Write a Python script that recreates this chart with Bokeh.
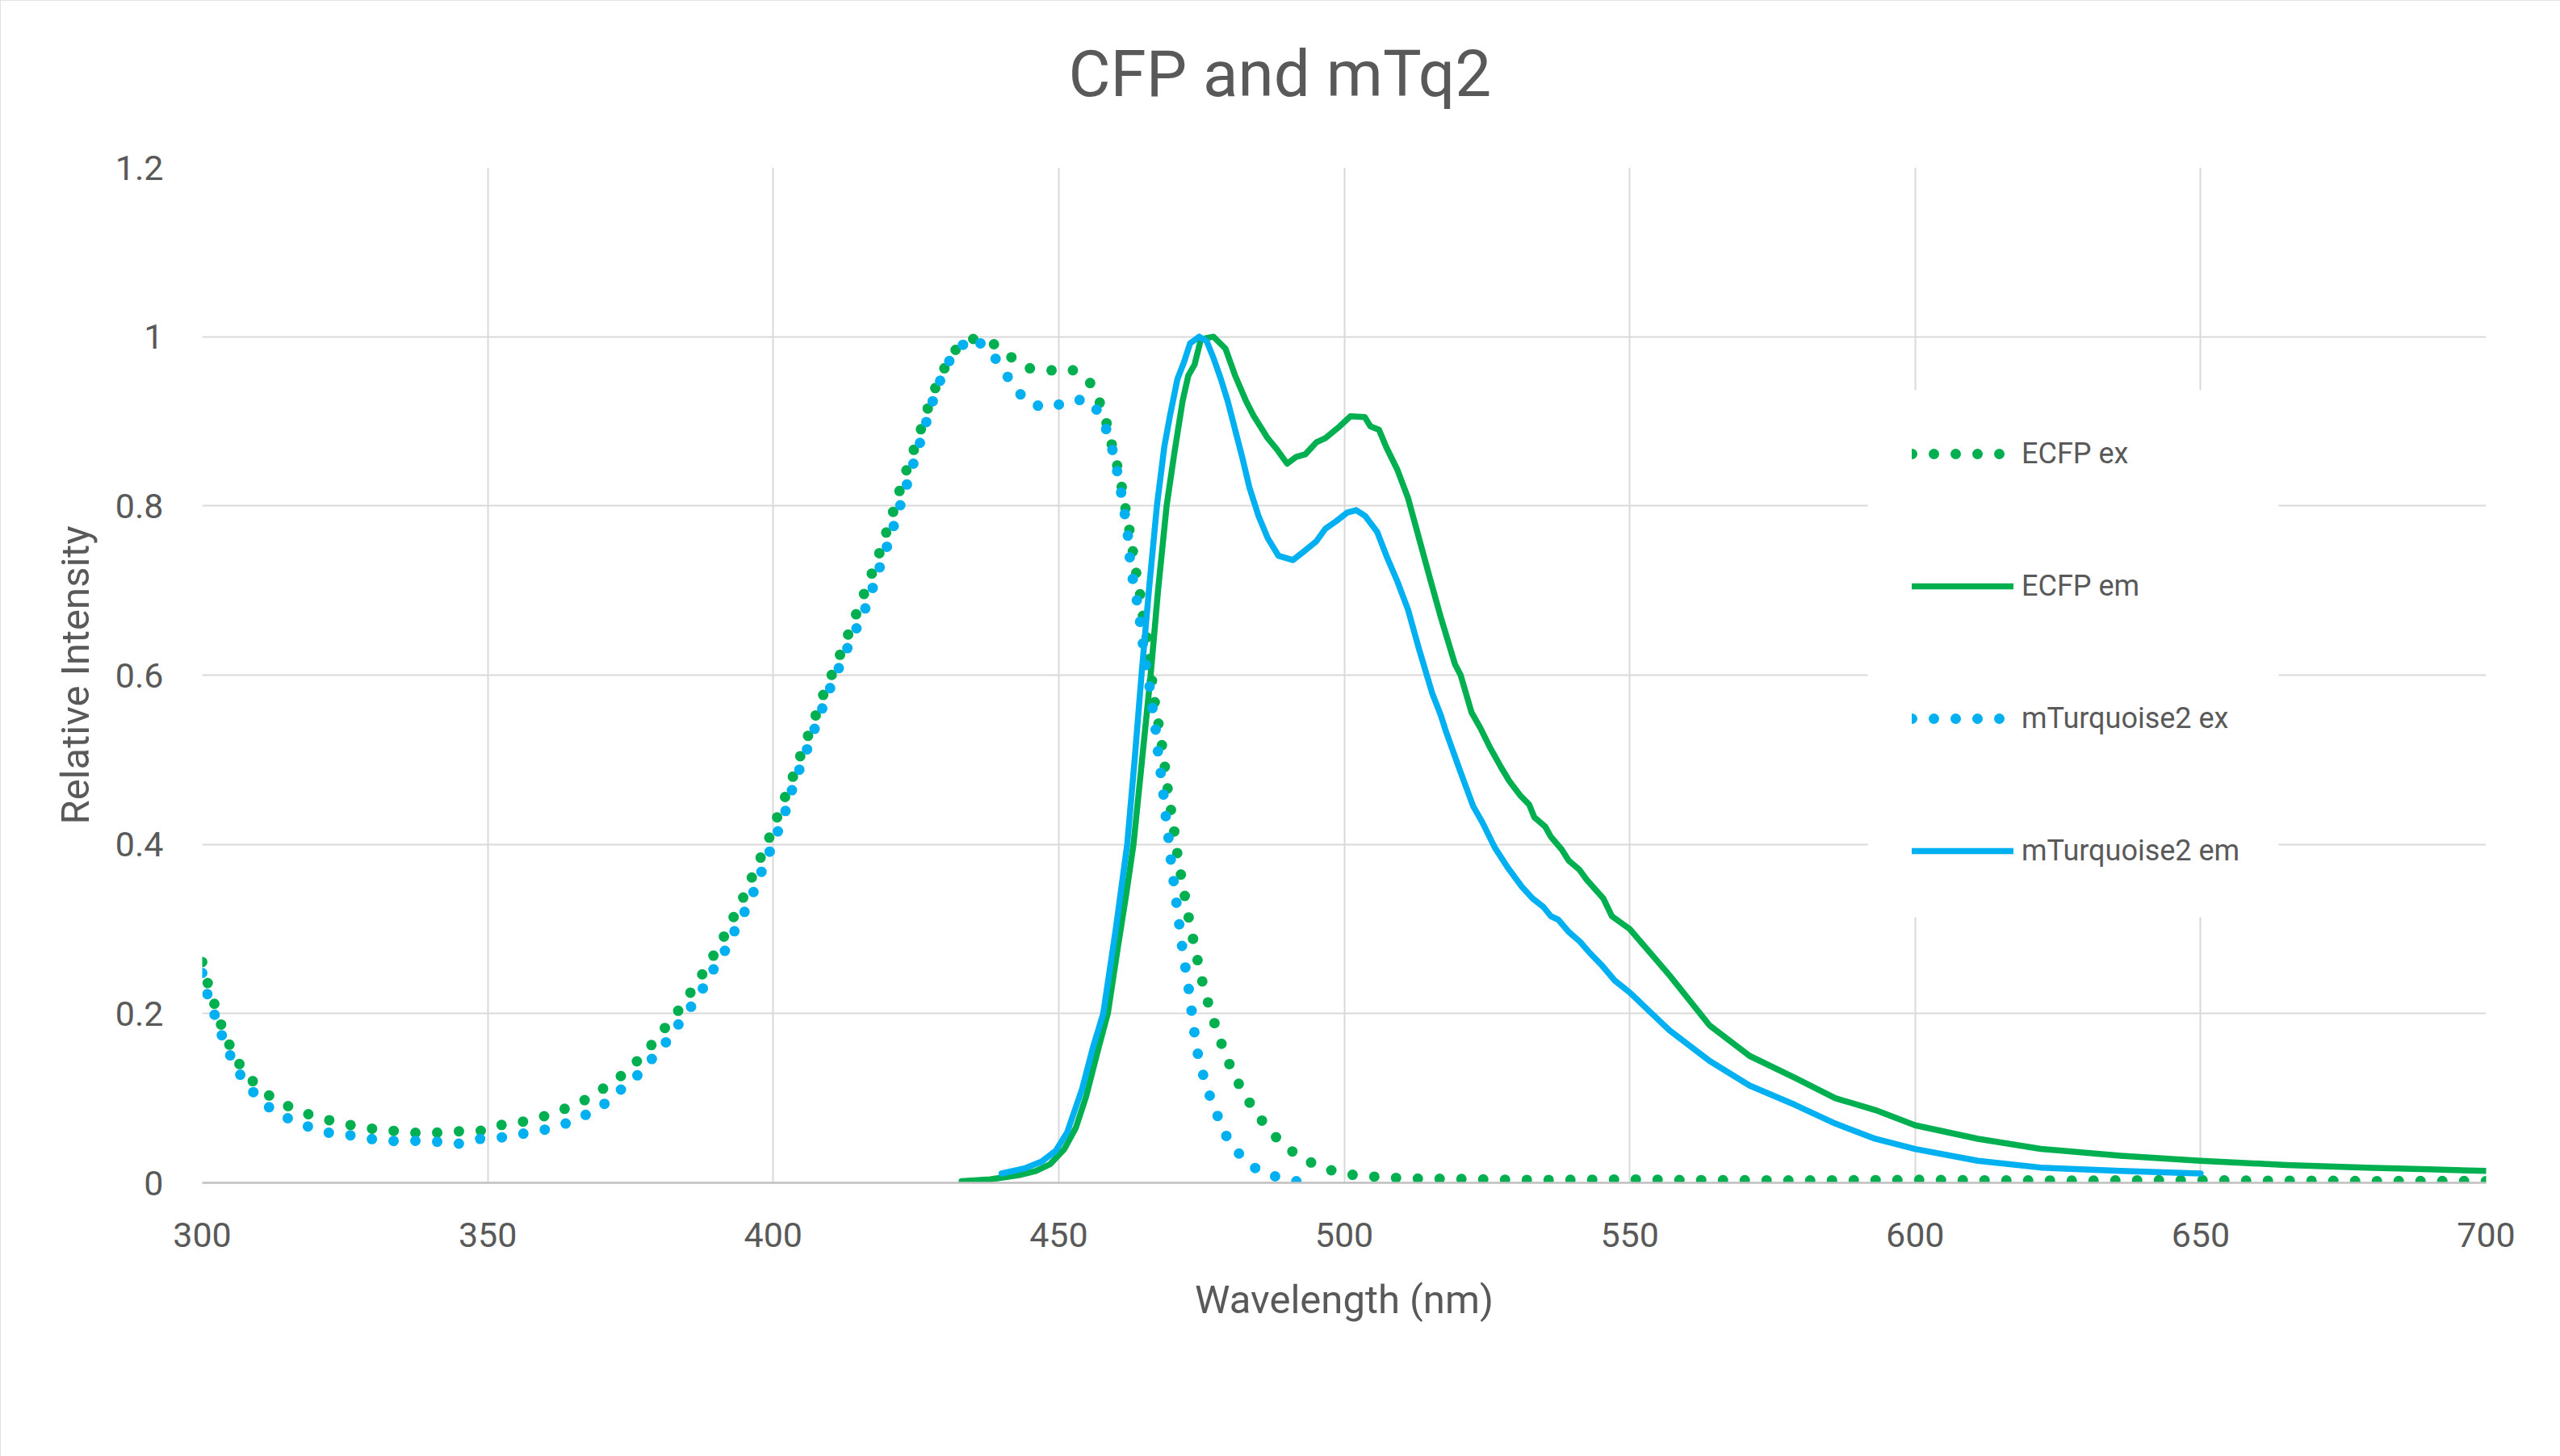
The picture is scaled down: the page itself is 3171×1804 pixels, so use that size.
from bokeh.plotting import figure
from bokeh.models import Range1d, Legend, LegendItem, FixedTicker, BoxAnnotation, Title
from bokeh.embed import file_html
from bokeh.resources import INLINE

# ---------------- data ----------------
ecfp_ex_wl = [300, 301, 302.2, 303.4, 304.9, 306.7, 309.1, 312.1, 315.5, 319.2, 322.9, 326.6, 330.4, 334.2,
              338, 341.8, 345.7, 349.6, 353, 356.7, 360.4, 364.1, 367.5, 370.8, 373.9, 376.8, 379.2, 381.6,
              384, 386.1, 388.2, 390.1, 392, 393.7, 395.4, 396.9, 398.5, 399.9, 401.3, 402.8, 404.1, 405.4,
              406.9, 408.1, 409.6, 411.1, 412.6, 414, 415.4, 416.8, 418.2, 419.4, 420.7, 421.8, 423, 424.3,
              425.6, 426.8, 428.1, 429.7, 431.5, 434.4, 438.1, 441.2, 444.5, 448.2, 452.1, 455.3, 457.1,
              458.3, 459.2, 460.2, 461, 461.7, 462.4, 463, 463.6, 464.3, 464.8, 465.5, 466, 466.4, 466.9,
              467.6, 468.2, 468.7, 469.2, 469.8, 470.4, 470.9, 471.6, 472.3, 473, 473.8, 474.6, 475.5,
              476.6, 477.8, 479.1, 480.6, 482.4, 484.5, 486.8, 489.5, 492.7, 496.2, 500, 503.8, 507.7,
              511.6, 520, 531, 540, 550, 560, 570, 580, 590, 600, 610, 620, 630, 640, 650, 660, 670, 680,
              690, 700]
ecfp_ex_val = [0.261, 0.235, 0.210, 0.185, 0.161, 0.138, 0.118, 0.101, 0.089, 0.0795, 0.0728, 0.0674, 0.0633,
               0.061, 0.0587, 0.0594, 0.0612, 0.0616, 0.0697, 0.0728, 0.0797, 0.089, 0.0993, 0.114, 0.129,
               0.148, 0.167, 0.188, 0.209, 0.231, 0.253, 0.275, 0.299, 0.323, 0.346, 0.372, 0.394, 0.418,
               0.443, 0.468, 0.492, 0.517, 0.541, 0.566, 0.590, 0.614, 0.639, 0.663, 0.687, 0.712, 0.736,
               0.761, 0.786, 0.811, 0.836, 0.860, 0.885, 0.910, 0.935, 0.959, 0.982, 0.998, 0.994, 0.978,
               0.963, 0.960, 0.962, 0.948, 0.924, 0.900, 0.875, 0.849, 0.824, 0.797, 0.771, 0.746, 0.720,
               0.694, 0.668, 0.642, 0.615, 0.590, 0.564, 0.538, 0.512, 0.486, 0.460, 0.435, 0.408, 0.383,
               0.357, 0.331, 0.305, 0.280, 0.254, 0.228, 0.203, 0.178, 0.153, 0.129, 0.106, 0.0833, 0.0629,
               0.0437, 0.0288, 0.0177, 0.0105, 0.0079, 0.0062, 0.005, 0.0045, 0.0034, 0.0035, 0.004, 0.0032,
               0.003, 0.0028, 0.003, 0.0035, 0.003, 0.0028, 0.0025, 0.003, 0.003, 0.0025, 0.0025, 0.002,
               0.0022, 0.002]

ecfp_em_wl = [433, 438, 443, 446, 448.5, 451, 453, 454.8, 457, 458.6, 460.4, 461.8, 463.1, 464.6, 466.1, 467.4,
              468.9, 470.2, 471.7, 472.7, 473.8, 474.9, 477.1, 479.2, 480.9, 482.8, 484.1, 485.3, 486.6, 488.2,
              490, 491.6, 493.2, 495.1, 496.7, 499.2, 501.1, 503.6, 504.6, 506.1, 507.4, 509.3, 511.2,
              513.1, 515, 516.9, 519.4, 520.4, 522.3, 523.9, 525.5, 527.4, 528.9, 530.8, 532.4, 533.3,
              535.2, 536.2, 538.1, 539.3, 541.2, 542.5, 545.4, 546.9, 550, 557, 564, 571, 579, 586, 593,
              600, 611, 622, 636, 650, 665, 679, 690, 700]
ecfp_em_val = [0.002, 0.004, 0.009, 0.014, 0.022, 0.040, 0.065, 0.102, 0.16, 0.20, 0.28, 0.34, 0.40, 0.50,
               0.60, 0.70, 0.80, 0.86, 0.924, 0.954, 0.967, 0.997, 1.0, 0.986, 0.954, 0.924, 0.907, 0.894,
               0.880, 0.867, 0.850, 0.858, 0.861, 0.875, 0.880, 0.894, 0.906, 0.905, 0.894, 0.890, 0.869,
               0.843, 0.809, 0.762, 0.715, 0.669, 0.613, 0.600, 0.556, 0.537, 0.515, 0.492, 0.475, 0.458,
               0.447, 0.432, 0.421, 0.409, 0.394, 0.381, 0.370, 0.358, 0.336, 0.315, 0.300, 0.245, 0.186,
               0.150, 0.124, 0.100, 0.086, 0.068, 0.052, 0.040, 0.032, 0.026, 0.021, 0.018, 0.016, 0.014]

mtq2_ex_wl = [300, 300.9, 302.2, 303.5, 305, 306.8, 309.2, 312, 315.4, 318.8, 322.4, 326.1, 329.9, 333.8,
              337.6, 341.3, 344.9, 348.5, 352.2, 355.9, 359.6, 363.4, 367, 370.3, 373.3, 376.2, 378.7,
              381.2, 383.5, 385.7, 387.8, 389.7, 391.7, 393.4, 395.2, 396.7, 398.2, 399.6, 401.1, 402.4,
              403.5, 404.9, 406.3, 407.6, 409, 410.4, 412, 413.5, 415.2, 416.7, 417.9, 419.2, 420.5, 421.6,
              422.8, 424, 425.1, 426.3, 427.4, 428.6, 430, 431.9, 435, 438, 440.3, 442.3, 445, 448.7, 452.2,
              455.7, 457.7, 459, 459.9, 460.7, 461.3, 462, 462.3, 462.7, 463.5, 464.1, 464.6, 465.1, 465.8,
              466.3, 466.9, 467.3, 467.8, 468.3, 468.7, 469.2, 469.6, 470.1, 470.6, 471.1, 471.6, 472.2,
              472.8, 473.3, 473.8, 474.4, 475.4, 476.6, 478, 479.6, 482, 484.9, 488.5, 492.2]
mtq2_ex_val = [0.248, 0.223, 0.198, 0.173, 0.149, 0.126, 0.105, 0.0875, 0.0747, 0.0658, 0.0588, 0.056, 0.0515,
               0.0493, 0.0496, 0.0484, 0.0462, 0.0518, 0.0534, 0.0577, 0.062, 0.0693, 0.0797, 0.0925, 0.110,
               0.127, 0.146, 0.166, 0.188, 0.209, 0.231, 0.254, 0.276, 0.300, 0.323, 0.346, 0.372, 0.395,
               0.420, 0.444, 0.469, 0.494, 0.519, 0.543, 0.568, 0.592, 0.616, 0.640, 0.664, 0.688, 0.713,
               0.738, 0.763, 0.787, 0.812, 0.838, 0.862, 0.887, 0.913, 0.937, 0.961, 0.984, 0.999, 0.983,
               0.961, 0.939, 0.920, 0.916, 0.926, 0.924, 0.902, 0.878, 0.852, 0.826, 0.800, 0.775, 0.749,
               0.723, 0.696, 0.671, 0.645, 0.618, 0.593, 0.566, 0.541, 0.514, 0.488, 0.462, 0.436, 0.410,
               0.384, 0.358, 0.332, 0.306, 0.280, 0.254, 0.228, 0.202, 0.176, 0.151, 0.125, 0.100, 0.0761,
               0.0518, 0.0309, 0.0147, 0.0062, 0.0011]

mtq2_em_wl = [440, 444, 447, 449.5, 451.5, 454.1, 456, 457.8, 460, 462, 463.3, 464.5, 465.8, 467.2, 468.5, 469.5,
              470.8, 472, 473, 474.6, 475.9, 477.1, 478.4, 479.6, 480.9, 482.2, 483.4, 485, 486.6, 488.5,
              491, 492.9, 495.1, 496.7, 498.6, 500.5, 502.1, 503.7, 505.8, 507.4, 509.3, 511.2, 513.1,
              515.4, 516.9, 517.9, 520.4, 522.6, 524.2, 526.4, 528.6, 531.1, 533, 534.9, 536.2, 537.5,
              539.4, 541.3, 543.1, 545, 547.4, 550, 557, 564, 571, 579, 586, 593, 600, 611, 622, 636, 650]
mtq2_em_val = [0.011, 0.017, 0.025, 0.038, 0.060, 0.111, 0.16, 0.20, 0.30, 0.40, 0.50, 0.60, 0.70, 0.80, 0.87,
               0.907, 0.950, 0.971, 0.992, 1.0, 0.995, 0.975, 0.950, 0.924, 0.890, 0.856, 0.822, 0.788, 0.762,
               0.741, 0.736, 0.746, 0.758, 0.773, 0.782, 0.792, 0.795, 0.788, 0.769, 0.741, 0.711, 0.677,
               0.631, 0.579, 0.553, 0.532, 0.485, 0.445, 0.426, 0.396, 0.373, 0.350, 0.336, 0.326, 0.315,
               0.311, 0.296, 0.285, 0.271, 0.258, 0.239, 0.225, 0.180, 0.144, 0.115, 0.092, 0.070, 0.052,
               0.040, 0.026, 0.018, 0.014, 0.011]

series_names = ["ECFP ex", "ECFP em", "mTurquoise2 ex", "mTurquoise2 em"]
x_ticks = [300, 350, 400, 450, 500, 550, 600, 650, 700]
y_ticks = [0, 0.2, 0.4, 0.6, 0.8, 1.0, 1.2]
y_tick_labels = ["0", "0.2", "0.4", "0.6", "0.8", "1", "1.2"]
title_text = "CFP and mTq2"
x_title = "Wavelength (nm)"
y_title = "Relative Intensity"

# ---------------- styling ----------------
GREEN = "#00B050"
BLUE = "#00B0F0"
TXT = "#595959"
GRID = "#D9D9D9"
FONT = "Roboto"

W, H = 3171, 1804
p = figure(width=W, height=H, output_backend="svg", toolbar_location=None,
           x_range=Range1d(300, 700), y_range=Range1d(0, 1.2),
           min_border_left=250, min_border_right=92, min_border_top=207, min_border_bottom=339)
p.styles = {"outline": "3px solid #D9D9D9", "outline-offset": "-3px"}
p.outline_line_color = None
p.background_fill_color = "white"
p.border_fill_color = "white"

# spacer between the plot area and the title (keeps the title high, like the reference)
p.add_layout(Title(text=" ", text_font_size="10px", standoff=56), "above")

p.title.text = title_text
p.title.text_font = FONT
p.title.text_font_size = "80px"
p.title.text_font_style = "normal"
p.title.text_color = TXT
p.title.align = "left"
p.title.offset = 1073
p.title.standoff = 0

p.xaxis.ticker = FixedTicker(ticks=x_ticks)
p.yaxis.ticker = FixedTicker(ticks=y_ticks)
p.yaxis.major_label_overrides = dict(zip(y_ticks, y_tick_labels))
for ax in (p.xaxis, p.yaxis):
    ax.major_tick_line_color = None
    ax.minor_tick_line_color = None
    ax.major_tick_in = 0
    ax.major_tick_out = 0
    ax.minor_tick_out = 0
    ax.major_label_text_font = FONT
    ax.major_label_text_font_size = "43px"
    ax.major_label_text_color = TXT
    ax.axis_label_text_font = FONT
    ax.axis_label_text_font_size = "49px"
    ax.axis_label_text_font_style = "normal"
    ax.axis_label_text_color = TXT
p.xaxis.axis_label = x_title
p.yaxis.axis_label = y_title
p.xaxis.axis_line_color = "#BFBFBF"
p.xaxis.axis_line_width = 2.5
p.yaxis.axis_line_color = None
p.xaxis.major_label_standoff = 49
p.xaxis.axis_label_standoff = 34
p.yaxis.major_label_standoff = 48
p.yaxis.axis_label_standoff = 18

p.xgrid.grid_line_color = GRID
p.xgrid.grid_line_width = 2
p.ygrid.grid_line_color = GRID
p.ygrid.grid_line_width = 2

DOT = dict(line_width=13, line_dash="0 27", line_cap="round", line_join="round")
SOLID = dict(line_width=7.5, line_cap="round", line_join="round")

r1 = p.line(ecfp_ex_wl, ecfp_ex_val, line_color=GREEN, **DOT)
r2 = p.line(ecfp_em_wl, ecfp_em_val, line_color=GREEN, **SOLID)
r3 = p.line(mtq2_ex_wl, mtq2_ex_val, line_color=BLUE, **DOT)
r4 = p.line(mtq2_em_wl, mtq2_em_val, line_color=BLUE, **SOLID)

# white backdrop of the legend (covers the grid, as in the reference)
backdrop = BoxAnnotation(left=2063, right=2572, bottom=329, top=982,
                         left_units="screen", right_units="screen",
                         bottom_units="screen", top_units="screen",
                         fill_color="white", fill_alpha=1.0, line_color=None)
p.add_layout(backdrop)

legend = Legend(items=[LegendItem(label=n, renderers=[r]) for n, r in zip(series_names, [r1, r2, r3, r4])],
                location=(2118, 390), orientation="vertical",
                glyph_width=126, glyph_height=42, label_height=42, label_standoff=10,
                spacing=122, padding=0, margin=0,
                label_text_font=FONT, label_text_font_size="36px", label_text_color=TXT,
                background_fill_color="white", background_fill_alpha=1.0,
                border_line_color=None)
p.add_layout(legend, "center")

open("out.html", "w").write(file_html(p, INLINE))
